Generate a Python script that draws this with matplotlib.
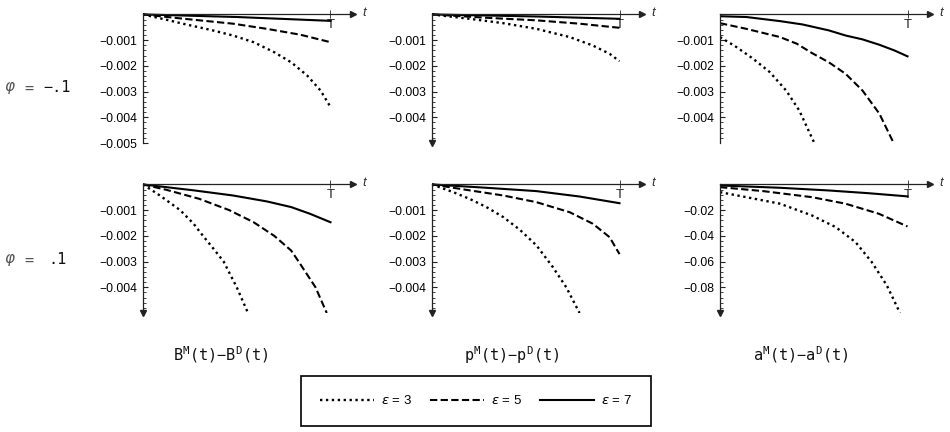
import matplotlib
matplotlib.use("Agg")
import matplotlib.pyplot as plt
from matplotlib.lines import Line2D

plt.rcParams['font.family'] = ['Liberation Sans', 'DejaVu Sans']
plt.rcParams['mathtext.fontset'] = 'dejavusans'

# ---------- data (t in units of T) ----------
# B^M(t) - B^D(t), phi = -.1
B_NEG_E3_T = [0, 0.127, 0.23, 0.36, 0.48, 0.59, 0.70, 0.79, 0.875, 0.947, 1.0]
B_NEG_E3 = [0, -0.00021, -0.00039, -0.0006, -0.00082, -0.00108, -0.00147,
            -0.00186, -0.00237, -0.00296, -0.0036]
B_NEG_E5_T = [0, 0.22, 0.48, 0.66, 0.84, 1.0]
B_NEG_E5 = [0, -0.00017, -0.00036, -0.00056, -0.00079, -0.00108]
B_NEG_E7_T = [0, 0.5, 1.0]
B_NEG_E7 = [0, -0.0001, -0.00025]

# p^M(t) - p^D(t), phi = -.1
P_NEG_E3_T = [0, 0.2, 0.38, 0.557, 0.734, 0.858, 0.947, 1.0]
P_NEG_E3 = [0, -0.00017, -0.00034, -0.00056, -0.00088, -0.00121, -0.00153, -0.00182]
P_NEG_E5_T = [0, 0.29, 0.557, 0.787, 1.0]
P_NEG_E5 = [0, -0.00013, -0.00023, -0.00036, -0.00052]
P_NEG_E7_T = [0, 0.557, 1.0]
P_NEG_E7 = [0, -0.00008, -0.00017]

# a^M(t) - a^D(t), phi = -.1
A_NEG_E3_T = [0, 0.088, 0.176, 0.265, 0.353, 0.423, 0.503]
A_NEG_E3 = [-0.00088, -0.00127, -0.00172, -0.00224, -0.00296, -0.00374, -0.005]
A_NEG_E5_T = [0, 0.14, 0.32, 0.41, 0.49, 0.58, 0.67, 0.76, 0.85, 0.926]
A_NEG_E5 = [-0.00034, -0.00056, -0.00088, -0.00114, -0.0015, -0.00186, -0.00231,
            -0.00296, -0.00386, -0.005]
A_NEG_E7_T = [0, 0.14, 0.32, 0.44, 0.58, 0.67, 0.76, 0.85, 0.93, 1.0]
A_NEG_E7 = [-0.00007, -0.0001, -0.00026, -0.00039, -0.00062, -0.00082, -0.00097,
            -0.00118, -0.0014, -0.00163]

# B^M(t) - B^D(t), phi = .1
B_POS_E3_T = [0, 0.09, 0.198, 0.27, 0.32, 0.376, 0.43, 0.50, 0.56]
B_POS_E3 = [0, -0.00043, -0.001, -0.00153, -0.002, -0.0025, -0.003, -0.004, -0.005]
B_POS_E5_T = [0, 0.125, 0.30, 0.46, 0.59, 0.70, 0.79, 0.83, 0.92, 0.98]
B_POS_E5 = [0, -0.00021, -0.00056, -0.001, -0.00147, -0.002, -0.00257, -0.003,
            -0.004, -0.005]
B_POS_E7_T = [0, 0.27, 0.48, 0.66, 0.79, 0.89, 1.0]
B_POS_E7 = [0, -0.00023, -0.00043, -0.00066, -0.00088, -0.00114, -0.00147]

# p^M(t) - p^D(t), phi = .1
P_POS_E3_T = [0, 0.113, 0.2, 0.29, 0.38, 0.468, 0.557, 0.645, 0.716, 0.787]
P_POS_E3 = [0, -0.0003, -0.00056, -0.00088, -0.00127, -0.00176, -0.00237,
            -0.00322, -0.004, -0.005]
P_POS_E5_T = [0, 0.2, 0.38, 0.557, 0.734, 0.858, 0.947, 1.0]
P_POS_E5 = [0, -0.00023, -0.00043, -0.00069, -0.00108, -0.00153, -0.00205, -0.00271]
P_POS_E7_T = [0, 0.29, 0.557, 0.787, 1.0]
P_POS_E7 = [0, -0.00013, -0.00026, -0.00047, -0.00073]

# a^M(t) - a^D(t), phi = .1
A_POS_E3_T = [0, 0.14, 0.32, 0.49, 0.617, 0.723, 0.81, 0.89, 0.96]
A_POS_E3 = [-0.006, -0.0099, -0.015, -0.0241, -0.0332, -0.0449, -0.0605, -0.0786, -0.1]
A_POS_E5_T = [0, 0.23, 0.49, 0.67, 0.847, 1.0]
A_POS_E5 = [-0.0021, -0.0052, -0.0099, -0.015, -0.0228, -0.0327]
A_POS_E7_T = [0, 0.32, 0.58, 0.79, 1.0]
A_POS_E7 = [-0.0008, -0.0026, -0.0047, -0.0068, -0.0093]

EPSILONS = [3, 5, 7]
ROW_LABELS = ['\u2212.1', '.1']
COL_LABELS = ['B$^{\\mathtt{M}}$(t)\u2212B$^{\\mathtt{D}}$(t)',
              'p$^{\\mathtt{M}}$(t)\u2212p$^{\\mathtt{D}}$(t)',
              'a$^{\\mathtt{M}}$(t)\u2212a$^{\\mathtt{D}}$(t)']

SMALL_TICKS = [-0.001, -0.002, -0.003, -0.004, -0.005]
BIG_TICKS = [-0.02, -0.04, -0.06, -0.08]

# ---------- layout ----------
W, H = 950, 432
COL_LEFT = [143, 432, 720]
ROW_TOP = [8, 178]
AX_W, AX_H = 210, 135
XMAX = 1.12

STYLES = [(0, (1.0, 1.5)), (0, (3.5, 1.6)), '-']
WIDTHS = [1.7, 1.5, 1.5]

panels = [
    # (row, col, series, ymin, tick values, arrow on y axis)
    (0, 0, [(B_NEG_E3_T, B_NEG_E3), (B_NEG_E5_T, B_NEG_E5), (B_NEG_E7_T, B_NEG_E7)],
     -0.005, SMALL_TICKS, False),
    (0, 1, [(P_NEG_E3_T, P_NEG_E3), (P_NEG_E5_T, P_NEG_E5), (P_NEG_E7_T, P_NEG_E7)],
     -0.005, SMALL_TICKS[:4], True),
    (0, 2, [(A_NEG_E3_T, A_NEG_E3), (A_NEG_E5_T, A_NEG_E5), (A_NEG_E7_T, A_NEG_E7)],
     -0.005, SMALL_TICKS[:4], False),
    (1, 0, [(B_POS_E3_T, B_POS_E3), (B_POS_E5_T, B_POS_E5), (B_POS_E7_T, B_POS_E7)],
     -0.005, SMALL_TICKS[:4], True),
    (1, 1, [(P_POS_E3_T, P_POS_E3), (P_POS_E5_T, P_POS_E5), (P_POS_E7_T, P_POS_E7)],
     -0.005, SMALL_TICKS[:4], True),
    (1, 2, [(A_POS_E3_T, A_POS_E3), (A_POS_E5_T, A_POS_E5), (A_POS_E7_T, A_POS_E7)],
     -0.1, BIG_TICKS, True),
]

fig = plt.figure(figsize=(W / 100, H / 100), dpi=100)

for row, col, series, ymin, ticks, arrow in panels:
    left, top = COL_LEFT[col], ROW_TOP[row]
    ax = fig.add_axes([left / W, 1 - (top + AX_H) / H, AX_W / W, AX_H / H])
    ymax = -ymin * 0.05

    for (t, v), ls, lw in zip(series, STYLES, WIDTHS):
        ax.plot(t, v, color='black', lw=lw, linestyle=ls)

    ax.set_xlim(0, XMAX)
    ax.set_ylim(ymin, ymax)

    for side in ['top', 'right']:
        ax.spines[side].set_visible(False)
    ax.spines['left'].set_position(('data', 0))
    ax.spines['bottom'].set_position(('data', 0))
    ax.spines['left'].set_bounds(ymin, 0)
    ax.spines['bottom'].set_bounds(0, XMAX)
    for side in ['left', 'bottom']:
        ax.spines[side].set_linewidth(0.9)
        ax.spines[side].set_color('#222222')

    # y ticks
    step = -ymin / 25
    minor = [-step * i for i in range(1, 26) if i % 5]
    ax.set_yticks(ticks)
    ax.set_yticks(minor, minor=True)
    fmt = '{:.2f}' if ymin < -0.01 else '{:.3f}'
    ax.set_yticklabels([fmt.format(v).replace('-', '\u2212') for v in ticks])
    ax.tick_params(axis='y', which='major', direction='in', length=3.5,
                   width=0.8, labelsize=8.7, pad=4, color='#222222')
    ax.tick_params(axis='y', which='minor', direction='in', length=1.8,
                   width=0.6, color='#222222')

    # x axis: only T
    ax.set_xticks([1.0])
    ax.set_xticklabels(['T'])
    ax.tick_params(axis='x', direction='inout', length=6, width=0.7,
                   labelsize=9.5, pad=0, color='#444444', labelcolor='#222222')

    # arrows and axis label
    ax.plot(1, 0, '>', color='#222222', ms=4, transform=ax.get_yaxis_transform(),
            clip_on=False)
    if arrow:
        ax.plot(0, 0, 'v', color='#222222', ms=4, transform=ax.get_xaxis_transform(),
                clip_on=False)
    ax.annotate('t', xy=(1, 0), xycoords=ax.get_yaxis_transform(),
                xytext=(7, 1), textcoords='offset points', style='italic',
                fontsize=9.5, va='center', ha='left', color='#333333')

# row labels
ROW_Y = [88, 260]
for lab, y in zip(ROW_LABELS, ROW_Y):
    fig.text(4 / W, 1 - y / H, r'$\varphi$', fontsize=11, color='#555555',
             va='center', ha='left')
    fig.text(29 / W, 1 - y / H, '=', family='DejaVu Sans Mono', fontsize=11,
             color='#555555', va='center', ha='center')
    fig.text((43 if lab.startswith('\u2212') else 48) / W, 1 - y / H, lab,
             family='DejaVu Sans Mono', fontsize=11, color='#111111',
             va='center', ha='left')

# column labels
COL_X = [221, 512, 801]
for lab, x in zip(COL_LABELS, COL_X):
    fig.text(x / W, 1 - 355 / H, lab, family='DejaVu Sans Mono', fontsize=11,
             color='#111111', va='center', ha='center')

# legend
handles = [Line2D([], [], color='black', lw=lw, linestyle=ls)
           for ls, lw in zip(STYLES, WIDTHS)]
leg = fig.legend(handles, [r'$\epsilon$ = %d' % e for e in EPSILONS],
                 loc='center', bbox_to_anchor=(476 / W, 1 - 401 / H), ncol=3,
                 fontsize=9.5, handlelength=4.1, handletextpad=0.55,
                 columnspacing=1.35, borderpad=1.4, fancybox=False,
                 edgecolor='black', framealpha=1)
leg.get_frame().set_linewidth(1.2)

fig.savefig('out.png', dpi=100)
